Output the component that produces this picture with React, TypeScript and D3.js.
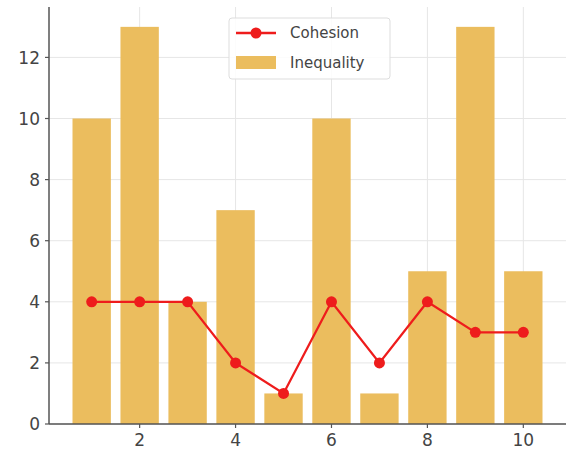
import React from "react";
import * as d3 from "d3";

const xs = [1, 2, 3, 4, 5, 6, 7, 8, 9, 10];
const inequality = [10, 13, 4, 7, 1, 10, 1, 5, 13, 5];
const cohesion = [4, 4, 4, 2, 1, 4, 2, 4, 3, 3];
const xTicks = [2, 4, 6, 8, 10];
const yTicks = [0, 2, 4, 6, 8, 10, 12];

const W = 566, H = 456;
const left = 49, right = 566, top = 7, bottom = 424;

export default function App() {
  const x = d3.scaleLinear().domain([0.11, 10.89]).range([left, right]);
  const y = d3.scaleLinear().domain([0, 13.65]).range([bottom, top]);
  const bw = x(0.8) - x(0);
  const line = d3.line<number>().x((_, i) => x(xs[i])).y((d) => y(d));
  const font = "DejaVu Sans, sans-serif";
  const barColor = "#EBBD5E";
  const red = "#ee1c1c";
  return (
    <svg width={W} height={H} style={{ position: "absolute", left: 0, top: 0, background: "#fff" }}>
      {xTicks.map((t) => (
        <line key={"gx" + t} x1={x(t)} x2={x(t)} y1={top} y2={bottom} stroke="#e6e6e6" strokeWidth={1} />
      ))}
      {yTicks.map((t) => (
        <line key={"gy" + t} x1={left} x2={right} y1={y(t)} y2={y(t)} stroke="#e6e6e6" strokeWidth={1} />
      ))}
      {xs.map((v, i) => (
        <rect key={"b" + v} x={x(v) - bw / 2} y={y(inequality[i])} width={bw} height={y(0) - y(inequality[i])} fill={barColor} />
      ))}
      <path d={line(cohesion) || ""} fill="none" stroke={red} strokeWidth={2.3} />
      {cohesion.map((c, i) => (
        <circle key={"c" + i} cx={x(xs[i])} cy={y(c)} r={5.5} fill={red} />
      ))}
      <line x1={left} x2={left} y1={top} y2={bottom} stroke="#555" strokeWidth={1.5} />
      <line x1={left} x2={right} y1={bottom} y2={bottom} stroke="#555" strokeWidth={1.5} />
      {yTicks.map((t) => (
        <g key={"ty" + t}>
          <line x1={left - 4} x2={left} y1={y(t)} y2={y(t)} stroke="#555" strokeWidth={1.2} />
          <text x={left - 9} y={y(t)} dy="0.36em" textAnchor="end" fontFamily={font} fontSize={17} fill="#444">{t}</text>
        </g>
      ))}
      {xTicks.map((t) => (
        <g key={"tx" + t}>
          <line x1={x(t)} x2={x(t)} y1={bottom} y2={bottom + 4} stroke="#555" strokeWidth={1.2} />
          <text x={x(t)} y={bottom + 22} textAnchor="middle" fontFamily={font} fontSize={17} fill="#444">{t}</text>
        </g>
      ))}
      <g>
        <rect x={229} y={18} width={161} height={61} rx={3} fill="#fff" fillOpacity={0.85} stroke="#ddd" />
        <line x1={236} x2={276} y1={33} y2={33} stroke={red} strokeWidth={2.3} />
        <circle cx={256} cy={33} r={5.5} fill={red} />
        <text x={290} y={33} dy="0.36em" fontFamily={font} fontSize={15} fill="#444">Cohesion</text>
        <rect x={236} y={56} width={40} height={13} fill={barColor} />
        <text x={290} y={63} dy="0.36em" fontFamily={font} fontSize={15} fill="#444">Inequality</text>
      </g>
    </svg>
  );
}
